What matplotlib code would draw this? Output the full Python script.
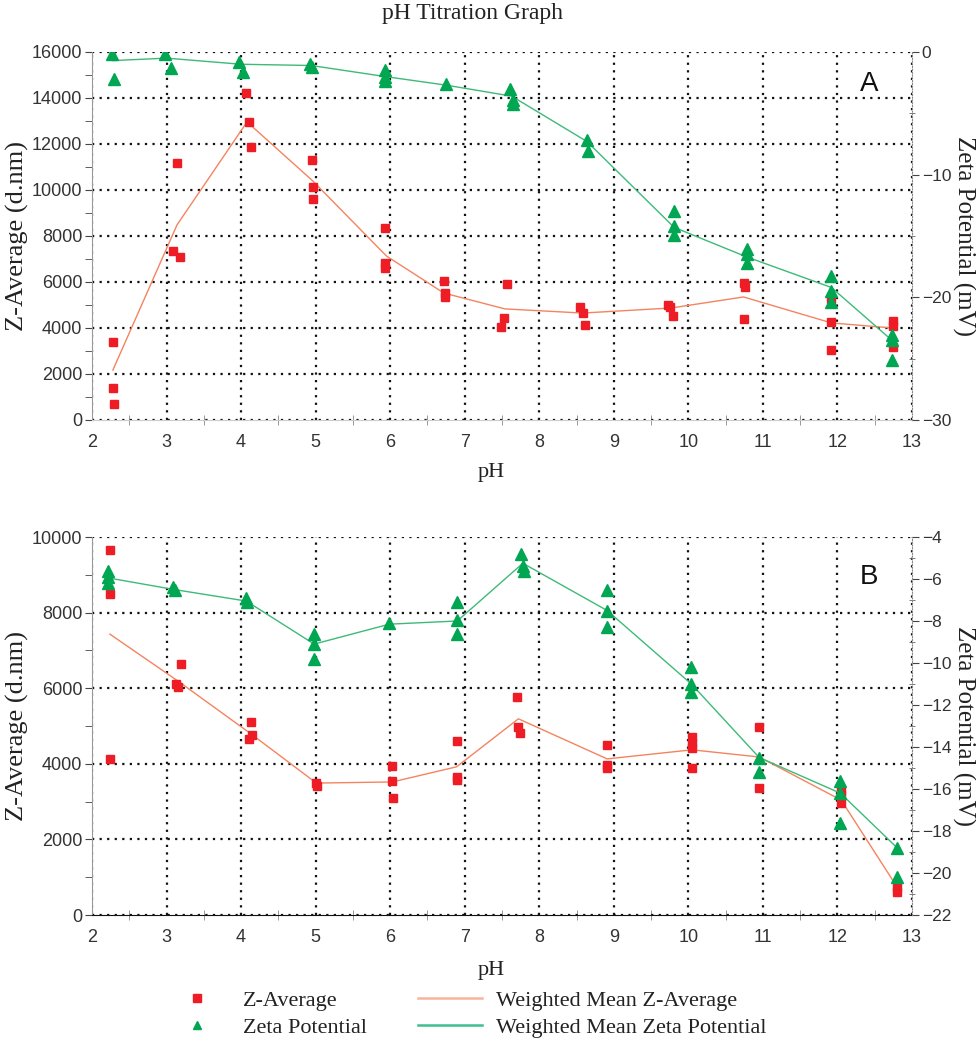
import matplotlib
matplotlib.use('Agg')
import matplotlib.pyplot as plt
from matplotlib.ticker import MultipleLocator
from matplotlib.lines import Line2D

# ---------------- data ----------------
# Panel A
ph_zavg_A = [2.28, 2.28, 2.29, 3.14, 3.09, 3.18, 4.07, 4.10, 4.13, 4.95, 4.96, 4.97,
             5.93, 5.93, 5.93, 6.72, 6.73, 6.73, 7.57, 7.53, 7.49, 8.55, 8.59, 8.62,
             9.73, 9.76, 9.80, 10.74, 10.76, 10.74, 11.92, 11.92, 11.92, 12.74, 12.74, 12.74]
zavg_A = [3400, 1390, 700, 11170, 7350, 7090, 14200, 12960, 11870, 11300, 10130, 9600,
          8350, 6820, 6600, 6040, 5520, 5350, 5910, 4430, 4050, 4910, 4650, 4130,
          5000, 4910, 4520, 5960, 5780, 4390, 5260, 4260, 3040, 4300, 4090, 3170]
ph_wzavg_A = [2.28, 3.14, 4.08, 4.96, 5.95, 6.72, 7.54, 8.58, 9.77, 10.74, 11.92, 12.74]
wzavg_A = [2170, 8480, 12960, 10400, 7130, 5520, 4830, 4650, 4870, 5350, 4220, 4000]
ph_zeta_A = [2.27, 2.29, 2.98, 3.06, 3.97, 4.03, 4.93, 4.95, 5.93, 5.93, 5.93, 6.75,
             7.61, 7.65, 7.65, 8.64, 8.66, 9.81, 9.81, 9.81, 10.78, 10.78, 10.78,
             11.92, 11.92, 11.92, 12.73, 12.73, 12.73]
zeta_A = [-0.2, -2.2, -0.15, -1.3, -0.8, -1.6, -1.0, -1.2, -1.5, -2.0, -2.4, -2.6,
          -3.0, -3.9, -4.2, -7.2, -8.1, -13.0, -14.2, -14.9, -16.1, -16.5, -17.2,
          -18.3, -19.5, -20.4, -23.1, -23.5, -25.1]
ph_wzeta_A = [2.28, 3.0, 4.0, 4.94, 5.93, 6.75, 7.63, 8.64, 9.81, 10.78, 11.92, 12.73]
wzeta_A = [-0.7, -0.5, -1.0, -1.1, -2.0, -2.7, -3.6, -7.3, -14.3, -16.7, -19.2, -23.5]

# Panel B
ph_zavg_B = [2.24, 2.24, 2.24, 3.19, 3.13, 3.16, 4.13, 4.14, 4.10, 5.01, 5.02,
             6.03, 6.03, 6.04, 6.89, 6.89, 6.89, 7.70, 7.72, 7.74, 8.91, 8.91, 8.91,
             10.05, 10.05, 10.05, 10.05, 10.95, 10.95, 12.05, 12.05, 12.05, 12.80, 12.80]
zavg_B = [9650, 8490, 4140, 6640, 6110, 6030, 5110, 4760, 4650, 3490, 3410,
          3940, 3550, 3100, 4600, 3650, 3570, 5770, 4970, 4810, 4500, 3970, 3890,
          4710, 4560, 4420, 3890, 4970, 3360, 3300, 3170, 2960, 740, 610]
ph_wzavg_B = [2.24, 3.16, 4.12, 5.01, 6.03, 6.89, 7.72, 8.91, 10.05, 10.95, 12.05, 12.80]
wzavg_B = [7430, 6180, 4810, 3490, 3520, 3920, 5190, 4130, 4370, 4180, 3040, 740]
ph_zeta_B = [2.22, 2.22, 2.22, 3.09, 3.11, 4.07, 4.08, 4.98, 4.98, 4.98, 5.99,
             6.90, 6.90, 6.90, 7.76, 7.78, 7.80, 8.91, 8.91, 8.91, 10.04, 10.04, 10.04,
             10.95, 10.95, 12.04, 12.04, 12.04, 12.80, 12.80]
zeta_B = [-5.6, -5.9, -6.2, -6.4, -6.5, -6.9, -7.1, -8.6, -9.1, -9.8, -8.1,
          -7.1, -7.95, -8.6, -4.8, -5.4, -5.6, -6.5, -7.5, -8.3, -10.2, -11.0, -11.4,
          -14.5, -15.2, -15.6, -16.2, -17.6, -18.8, -20.2]
ph_wzeta_B = [2.22, 3.10, 4.07, 4.98, 5.99, 6.90, 7.78, 8.91, 10.04, 10.95, 12.04, 12.80]
wzeta_B = [-5.95, -6.5, -7.05, -9.1, -8.15, -8.0, -5.25, -7.5, -11.0, -14.5, -16.2, -18.8]

legend_labels = ['Z-Average', 'Zeta Potential', 'Weighted Mean Z-Average',
                 'Weighted Mean Zeta Potential']

# ---------------- style ----------------
W, H = 976, 1050
SERIF = 'Liberation Serif'
SANS = 'Liberation Sans'
RED = '#ee1c25'
GREEN = '#00a651'
ORANGE = '#f4845f'
LGREEN = '#3dba78'
TXT = '#222222'
TICK = '#333333'

fig = plt.figure(figsize=(W / 100, H / 100), dpi=100)


def px_rect(l, t, r, b):
    return [l / W, 1 - b / H, (r - l) / W, (b - t) / H]


def panel(rect, ph_z, z, ph_wz, wz, ph_ze, ze, ph_wze, wze,
          zlim, zmaj, zmin, zelim, zemaj, zemin, letter, letter_y, bottom_color):
    ax = fig.add_axes(rect)
    ax2 = ax.twinx()
    ax.set_xlim(2, 13)
    ax.set_ylim(*zlim)
    ax2.set_ylim(*zelim)

    ax.xaxis.set_major_locator(MultipleLocator(1))
    ax.xaxis.set_minor_locator(MultipleLocator(0.5))
    ax.yaxis.set_major_locator(MultipleLocator(zmaj))
    ax.yaxis.set_minor_locator(MultipleLocator(zmin))
    ax2.yaxis.set_major_locator(MultipleLocator(zemaj))
    ax2.yaxis.set_minor_locator(MultipleLocator(zemin))

    ax.grid(True, which='major', color='#111111', linestyle=(0, (1, 2.4)), linewidth=1.6)
    ax.set_axisbelow(True)

    for s in ['top', 'right']:
        ax.spines[s].set_visible(False)
    ax.spines['left'].set_color('#999999')
    ax.spines['bottom'].set_color(bottom_color)
    for s in ['top', 'left', 'bottom']:
        ax2.spines[s].set_visible(False)
    ax2.spines['right'].set_color('#888888')
    ax2.spines['right'].set_linestyle((0, (1, 1.5)))

    ax.tick_params(axis='x', which='major', length=0, pad=10, labelsize=13, labelcolor=TICK)
    ax.tick_params(axis='x', which='minor', direction='inout', length=7, color='#888888')
    ax.tick_params(axis='y', which='major', direction='out', length=5, color='#444444',
                   labelsize=13, labelcolor=TICK, pad=2)
    ax.tick_params(axis='y', which='minor', direction='out', length=5, color='#444444')
    ax2.tick_params(axis='y', which='major', direction='out', length=5, color='#444444',
                    labelsize=12.5, labelcolor=TICK, pad=2)
    ax2.tick_params(axis='y', which='minor', direction='inout', length=4, color='#666666')
    for lab in ax.get_xticklabels() + ax.get_yticklabels() + ax2.get_yticklabels():
        lab.set_fontfamily(SANS)

    ax.plot(ph_wz, wz, color=ORANGE, lw=1.0, zorder=3)
    ax.plot(ph_z, z, linestyle='none', marker='s', ms=6, color=RED, mec=RED, zorder=4)
    ax2.plot(ph_wze, wze, color=LGREEN, lw=1.0, zorder=3)
    ax2.plot(ph_ze, ze, linestyle='none', marker='^', ms=8, color=GREEN, mec=GREEN, zorder=4)

    ax.text(0.9476, letter_y, letter, transform=ax.transAxes, fontsize=20,
            family=SANS, color='#111111', ha='center', va='center')
    return ax, ax2


# Panel A: pixel box left 92, top 52, right 912, bottom 420
rectA = px_rect(92, 52, 912, 420)
panel(rectA, ph_zavg_A, zavg_A, ph_wzavg_A, wzavg_A, ph_zeta_A, zeta_A,
      ph_wzeta_A, wzeta_A, (0, 16000), 2000, 1000, (-30, 0), 10, 5,
      'A', 0.913, '#cccccc')

# Panel B: pixel box left 92, top 537, right 912, bottom 915
rectB = px_rect(92, 537, 912, 915)
panel(rectB, ph_zavg_B, zavg_B, ph_wzavg_B, wzavg_B, ph_zeta_B, zeta_B,
      ph_wzeta_B, wzeta_B, (0, 10000), 2000, 1000, (-22, -4), 2, 1,
      'B', 0.894, '#111111')

# Titles and labels
fig.text(472 / W, 1 - 14 / H, 'pH Titration Graph', family=SERIF, fontsize=17,
         color=TXT, ha='center', va='center')
for top, bot, xl in [(52, 420, 473), (537, 915, 970)]:
    yc = 1 - (top + bot) / 2 / H
    fig.text(17 / W, yc, 'Z-Average (d.nm)', family=SERIF, fontsize=19, color=TXT,
             rotation=90, ha='center', va='center')
    fig.text(964 / W, yc, 'Zeta Potential (mV)', family=SERIF, fontsize=18, color=TXT,
             rotation=270, ha='center', va='center')
    fig.text(491 / W, 1 - xl / H, 'pH', family=SERIF, fontsize=16, color=TXT,
             ha='center', va='center')

# Legend
handles = [
    Line2D([], [], linestyle='none', marker='s', ms=6, color=RED),
    Line2D([], [], linestyle='none', marker='^', ms=6, color=GREEN),
    Line2D([], [], color='#f8b49c', lw=1.8),
    Line2D([], [], color='#3fbf8f', lw=1.8),
]
leg = fig.legend(handles, legend_labels, ncol=2, loc='upper left',
                 bbox_to_anchor=(165 / W, 1 - 990 / H), frameon=False,
                 prop={'family': SERIF, 'size': 16}, handlelength=2.9,
                 handletextpad=0.6, columnspacing=2.3, labelspacing=0.3,
                 borderpad=0, borderaxespad=0)
for t in leg.get_texts():
    t.set_color(TXT)

fig.savefig('out.png', dpi=100)
